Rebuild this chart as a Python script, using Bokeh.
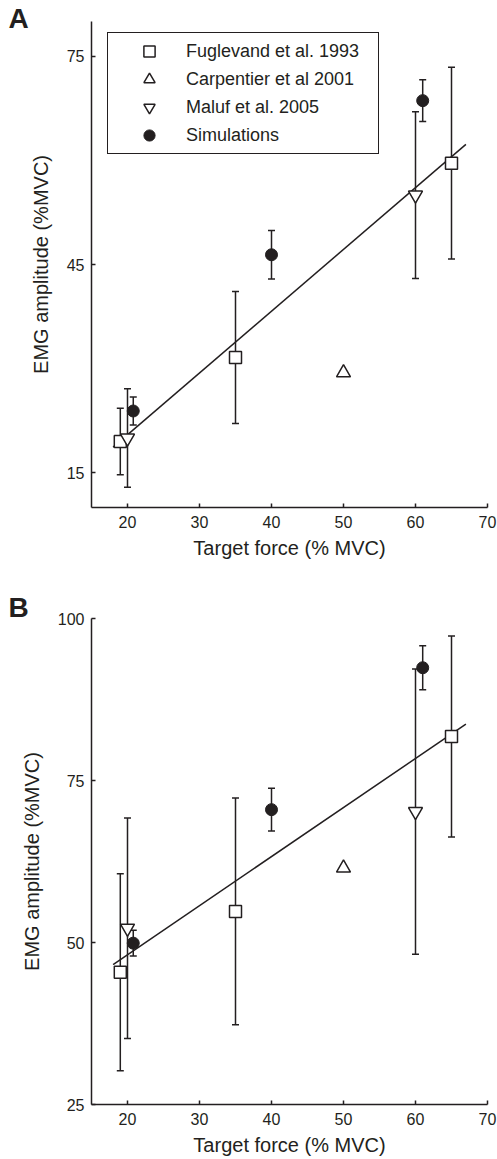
from bokeh.plotting import figure
from bokeh.models import (Whisker, TeeHead, Legend, LegendItem, ColumnDataSource,
                          Title, FixedTicker, Range1d)
from bokeh.layouts import column
from bokeh.embed import file_html
from bokeh.resources import INLINE

# ---------------- data ----------------
x_ticks = [20, 30, 40, 50, 60, 70]
a_y_ticks = [15, 45, 75]
b_y_ticks = [25, 50, 75, 100]

fug_x = [19, 35, 65]
carp_x = [50]
maluf_x = [20, 60]
sim_x = [20.8, 40, 61]
fit_x = [18, 67]

# Panel A
a_fug_y = [19.5, 31.6, 59.6]
a_fug_err = [4.8, 9.5, 13.8]
a_carp_y = [29.4]
a_maluf_y = [20.0, 55.0]
a_maluf_err = [7.1, 12.0]
a_sim_y = [23.9, 46.4, 68.6]
a_sim_err = [2.0, 3.5, 3.0]
a_fit_y = [18.7, 62.3]

# Panel B
b_fug_y = [45.4, 54.8, 81.8]
b_fug_err = [15.2, 17.5, 15.5]
b_carp_y = [61.5]
b_maluf_y = [52.2, 70.2]
b_maluf_err = [17.0, 22.0]
b_sim_y = [49.9, 70.5, 92.4]
b_sim_err = [2.0, 3.3, 3.4]
b_fit_y = [46.6, 83.7]

labels = ["Fuglevand et al. 1993", "Carpentier et al 2001", "Maluf et al. 2005", "Simulations"]

INK = "#231f20"
FONT = "Liberation Sans"


def whisker(p, xs, ys, errs):
    src = ColumnDataSource(dict(x=xs,
                                upper=[y + e for y, e in zip(ys, errs)],
                                lower=[y - e for y, e in zip(ys, errs)]))
    w = Whisker(base="x", upper="upper", lower="lower", source=src, dimension="height",
                line_color=INK, line_width=1.5, level="underlay",
                upper_head=TeeHead(size=7, line_color=INK, line_width=1.5),
                lower_head=TeeHead(size=7, line_color=INK, line_width=1.5))
    p.add_layout(w)


def panel(height, btop, bbot, yr, yticks, fug_y, fug_err, carp_y, maluf_y, maluf_err,
          sim_y, sim_err, fit_y, letter, letter_standoff, legend=False):
    p = figure(width=497, height=height, output_backend="svg", toolbar_location=None,
               x_range=Range1d(15, 70), y_range=Range1d(*yr),
               min_border_left=91, min_border_right=10,
               min_border_top=btop, min_border_bottom=bbot)
    p.outline_line_color = None
    p.grid.visible = False
    p.background_fill_color = "white"
    p.border_fill_color = "white"

    p.xaxis.ticker = FixedTicker(ticks=x_ticks)
    p.yaxis.ticker = FixedTicker(ticks=yticks)
    for ax in (p.xaxis, p.yaxis):
        ax.axis_line_color = INK
        ax.axis_line_width = 1.5
        ax.major_tick_line_color = INK
        ax.major_tick_line_width = 1.5
        ax.major_tick_in = 4
        ax.major_tick_out = 0
        ax.minor_tick_line_color = None
        ax.major_label_text_font = FONT
        ax.major_label_text_font_size = "16px"
        ax.major_label_text_color = INK
        ax.axis_label_text_font = FONT
        ax.axis_label_text_font_size = "20px"
        ax.axis_label_text_font_style = "normal"
        ax.axis_label_text_color = INK
    p.xaxis.axis_label = "Target force (% MVC)"
    p.yaxis.axis_label = "EMG amplitude (%MVC)"
    p.xaxis.major_label_standoff = 8
    p.xaxis.axis_label_standoff = 6
    p.yaxis.major_label_standoff = 7
    p.yaxis.axis_label_standoff = 12

    whisker(p, fug_x, fug_y, fug_err)
    whisker(p, maluf_x, maluf_y, maluf_err)
    whisker(p, sim_x, sim_y, sim_err)

    p.line(fit_x, fit_y, line_color=INK, line_width=1.5)

    r_fug = p.scatter(fug_x, fug_y, marker="square", size=12, fill_color="white",
                      line_color=INK, line_width=1.5)
    r_carp = p.scatter(carp_x, carp_y, marker="triangle", size=14, fill_color="white",
                       line_color=INK, line_width=1.5)
    r_mal = p.scatter(maluf_x, maluf_y, marker="inverted_triangle", size=14, fill_color="white",
                      line_color=INK, line_width=1.5)
    r_sim = p.scatter(sim_x, sim_y, marker="circle", size=12, fill_color=INK,
                      line_color=INK, line_width=1)

    if legend:
        lg = Legend(items=[LegendItem(label=labels[0], renderers=[r_fug]),
                           LegendItem(label=labels[1], renderers=[r_carp]),
                           LegendItem(label=labels[2], renderers=[r_mal]),
                           LegendItem(label=labels[3], renderers=[r_sim])],
                    location=(16, 353), orientation="vertical",
                    glyph_width=74, glyph_height=28, label_height=28, spacing=0,
                    padding=4, margin=0, label_standoff=0, label_width=188,
                    label_text_font=FONT, label_text_font_size="18px",
                    label_text_color=INK,
                    border_line_color=INK, border_line_width=1.5, border_line_alpha=1,
                    background_fill_color="white", background_fill_alpha=1)
        p.add_layout(lg)

    p.add_layout(Title(text=letter, align="left", offset=-83, standoff=letter_standoff,
                       text_font=FONT, text_font_style="bold", text_font_size="28px",
                       text_color=INK), "above")
    return p


pA = panel(580, 21, 73, (10, 80), a_y_ticks, a_fug_y, a_fug_err, a_carp_y, a_maluf_y,
           a_maluf_err, a_sim_y, a_sim_err, a_fit_y, "A", -25, legend=True)
pB = panel(579, 38, 55, (25, 100), b_y_ticks, b_fug_y, b_fug_err, b_carp_y, b_maluf_y,
           b_maluf_err, b_sim_y, b_sim_err, b_fit_y, "B", -8)

layout = column(pA, pB, spacing=0)
open("out.html", "w").write(file_html(layout, INLINE))
